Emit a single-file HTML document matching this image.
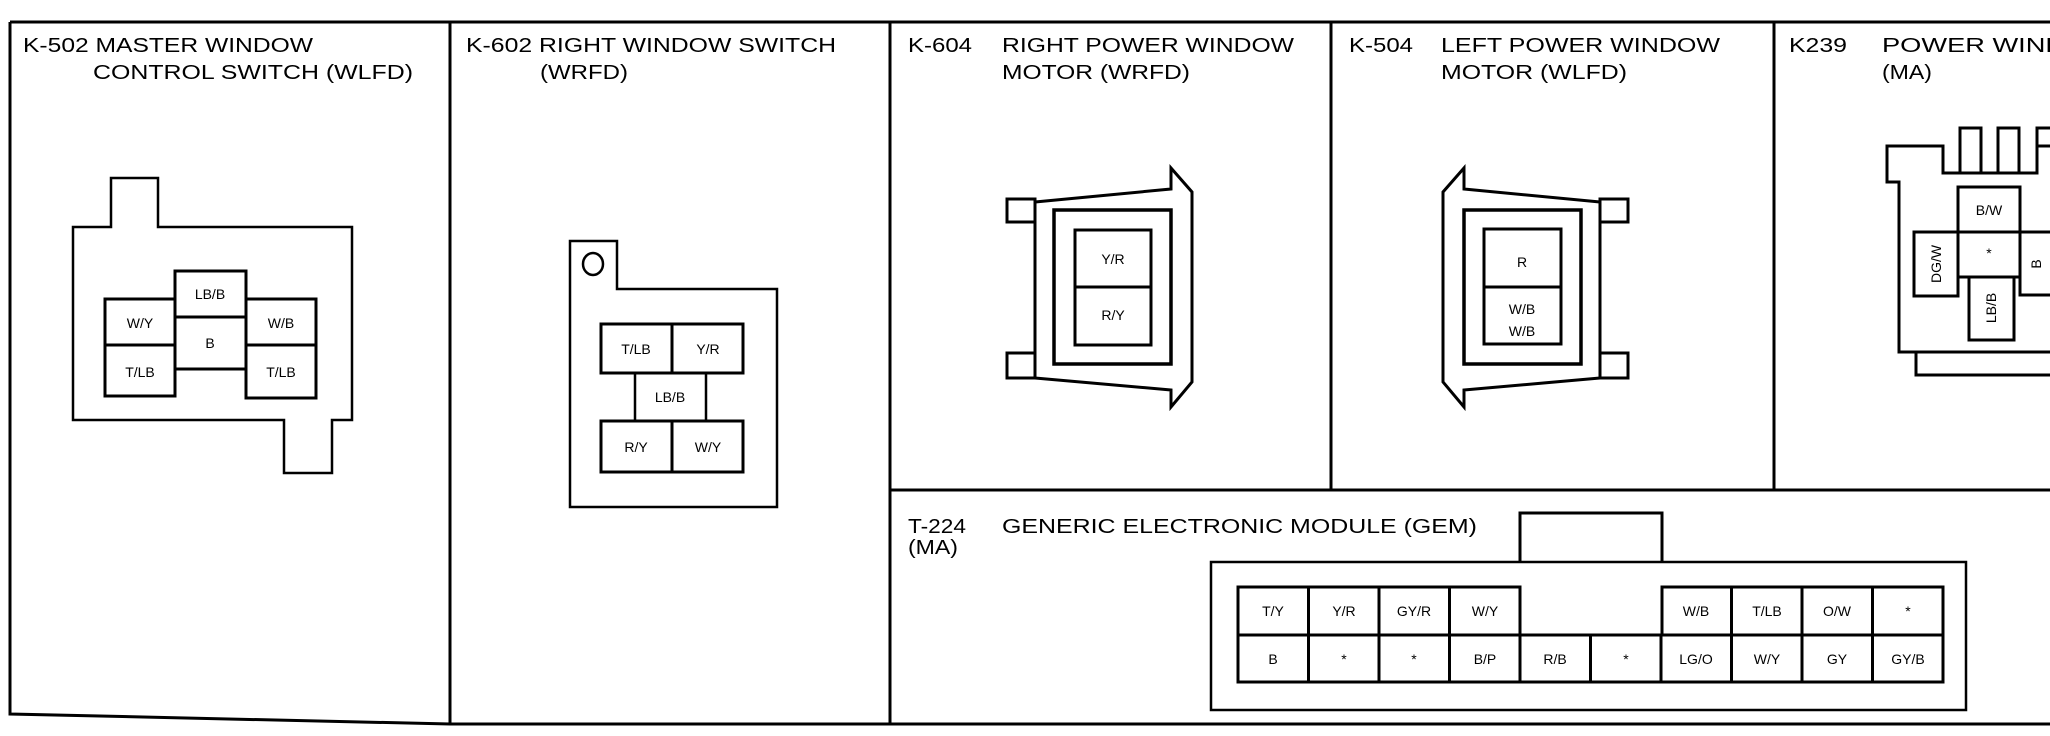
<!DOCTYPE html>
<html><head><meta charset="utf-8"><style>
html,body{margin:0;padding:0;background:#fff;}
svg{display:block;}
text{font-family:"Liberation Sans",Arial,sans-serif;fill:#000;}
.h{font-size:20px;}
.p{font-size:14px;text-anchor:middle;}
</style></head><body>
<svg width="2050" height="736" viewBox="0 0 2050 736" xmlns="http://www.w3.org/2000/svg">
<g fill="none" stroke="#000" stroke-width="3">
<!-- frame -->
<path d="M10 22 H2050"/>
<path d="M10 22 V714 L450 724 H2050"/>
<path d="M450 22 V724 M890 22 V724 M1331 22 V490 M1774 22 V490 M890 490 H2050"/>
</g>
<!-- headings -->
<text class="h" x="23" y="52" textLength="290" lengthAdjust="spacingAndGlyphs">K-502 MASTER WINDOW</text>
<text class="h" x="93" y="79" textLength="320" lengthAdjust="spacingAndGlyphs">CONTROL SWITCH (WLFD)</text>
<text class="h" x="466" y="52" textLength="370" lengthAdjust="spacingAndGlyphs">K-602 RIGHT WINDOW SWITCH</text>
<text class="h" x="540" y="79" textLength="88" lengthAdjust="spacingAndGlyphs">(WRFD)</text>
<text class="h" x="908" y="52" textLength="64" lengthAdjust="spacingAndGlyphs">K-604</text>
<text class="h" x="1002" y="52" textLength="292" lengthAdjust="spacingAndGlyphs">RIGHT POWER WINDOW</text>
<text class="h" x="1002" y="79" textLength="188" lengthAdjust="spacingAndGlyphs">MOTOR (WRFD)</text>
<text class="h" x="1349" y="52" textLength="64" lengthAdjust="spacingAndGlyphs">K-504</text>
<text class="h" x="1441" y="52" textLength="279" lengthAdjust="spacingAndGlyphs">LEFT POWER WINDOW</text>
<text class="h" x="1441" y="79" textLength="186" lengthAdjust="spacingAndGlyphs">MOTOR (WLFD)</text>
<text class="h" x="1789" y="52" textLength="58" lengthAdjust="spacingAndGlyphs">K239</text>
<text class="h" x="1882" y="52" textLength="230" lengthAdjust="spacingAndGlyphs">POWER WINDOW</text>
<text class="h" x="1882" y="79" textLength="50" lengthAdjust="spacingAndGlyphs">(MA)</text>
<text class="h" x="908" y="533" textLength="58" lengthAdjust="spacingAndGlyphs">T-224</text>
<text class="h" x="1002" y="533" textLength="475" lengthAdjust="spacingAndGlyphs">GENERIC ELECTRONIC MODULE (GEM)</text>
<text class="h" x="908" y="554" textLength="50" lengthAdjust="spacingAndGlyphs">(MA)</text>

<g fill="none" stroke="#000" stroke-width="3">
<!-- K-502 -->
<path d="M73 227 H111 V178 H158 V227 H352 V420 H332 V473 H284 V420 H73 Z" stroke-width="2.5"/>
<rect x="105" y="299" width="70" height="97"/>
<path d="M105 345 H175"/>
<rect x="175" y="271" width="71" height="98"/>
<path d="M175 317 H246"/>
<rect x="246" y="299" width="70" height="99"/>
<path d="M246 345 H316"/>
<!-- K-602 -->
<path d="M570 241 H617 V289 H777 V507 H570 Z" stroke-width="2.5"/>
<ellipse cx="593" cy="264" rx="10" ry="11" stroke-width="2.5"/>
<rect x="601" y="324" width="142" height="49"/>
<path d="M672 324 V373"/>
<rect x="635" y="373" width="71" height="48" stroke-width="2.5"/>
<rect x="601" y="421" width="142" height="51"/>
<path d="M672 421 V472"/>
<!-- K-604 -->
<path d="M1035 202 L1171 189 L1171 168 L1192 192 L1192 382 L1171 407 L1171 390 L1035 378 Z"/>
<rect x="1007" y="199" width="28" height="23"/>
<rect x="1007" y="353" width="28" height="25"/>
<rect x="1054" y="210" width="117" height="154" stroke-width="3.5"/>
<rect x="1075" y="230" width="76" height="115"/>
<path d="M1075 287 H1151"/>
<!-- K-504 -->
<path d="M1600 202 L1464 189 L1464 168 L1443 192 L1443 382 L1464 407 L1464 390 L1600 378 Z"/>
<rect x="1600" y="199" width="28" height="23"/>
<rect x="1600" y="353" width="28" height="25"/>
<rect x="1464" y="210" width="117" height="154" stroke-width="3.5"/>
<rect x="1484" y="229" width="77" height="115"/>
<path d="M1484 287 H1561"/>
<!-- K239 -->
<path d="M2052 146 H2037 V173 H1943 V146 H1887 V182 H1899 V352 H2052"/>
<path d="M1960 173 V128 H1981 V173 M1998 173 V128 H2019 V173 M2037 146 V128 H2052"/>
<path d="M1916 352 V375 H2052"/>
<rect x="1958" y="187" width="62" height="45"/>
<rect x="1958" y="232" width="62" height="45"/>
<rect x="1914" y="232" width="44" height="64"/>
<rect x="1969" y="277" width="45" height="63"/>
<path d="M2052 232 H2020 V295 H2052"/>
<!-- GEM -->
<path d="M1520 561 V513 H1662 V561" />
<rect x="1211" y="562" width="755" height="148" stroke-width="2.5"/>
<path d="M1238 635 V587 H1520 V635 M1662 635 V587 H1943 V635"/>
<rect x="1238" y="635" width="705" height="47"/>
<path d="M1308.5 587 V682 M1379 587 V682 M1449.5 587 V682 M1520 635 V682 M1590.5 635 V682 M1661 635 V682 M1731.5 587 V682 M1802 587 V682 M1872.5 587 V682"/>
</g>
<!-- pin labels -->
<g class="p">
<text class="p" x="140" y="328">W/Y</text>
<text class="p" x="140" y="377">T/LB</text>
<text class="p" x="210" y="299">LB/B</text>
<text class="p" x="210" y="348">B</text>
<text class="p" x="281" y="328">W/B</text>
<text class="p" x="281" y="377">T/LB</text>
<text class="p" x="636" y="354">T/LB</text>
<text class="p" x="708" y="354">Y/R</text>
<text class="p" x="670" y="402">LB/B</text>
<text class="p" x="636" y="452">R/Y</text>
<text class="p" x="708" y="452">W/Y</text>
<text class="p" x="1113" y="264">Y/R</text>
<text class="p" x="1113" y="320">R/Y</text>
<text class="p" x="1522" y="267">R</text>
<text class="p" x="1522" y="314">W/B</text>
<text class="p" x="1522" y="336">W/B</text>
<text class="p" x="1989" y="215">B/W</text>
<text class="p" x="1989" y="258">*</text>
<text class="p" transform="translate(1941 264) rotate(-90)">DG/W</text>
<text class="p" transform="translate(1996 308) rotate(-90)">LB/B</text>
<text class="p" transform="translate(2041 264) rotate(-90)">B</text>
<text class="p" x="1273" y="616">T/Y</text>
<text class="p" x="1344" y="616">Y/R</text>
<text class="p" x="1414" y="616">GY/R</text>
<text class="p" x="1485" y="616">W/Y</text>
<text class="p" x="1696" y="616">W/B</text>
<text class="p" x="1767" y="616">T/LB</text>
<text class="p" x="1837" y="616">O/W</text>
<text class="p" x="1908" y="616">*</text>
<text class="p" x="1273" y="664">B</text>
<text class="p" x="1344" y="664">*</text>
<text class="p" x="1414" y="664">*</text>
<text class="p" x="1485" y="664">B/P</text>
<text class="p" x="1555" y="664">R/B</text>
<text class="p" x="1626" y="664">*</text>
<text class="p" x="1696" y="664">LG/O</text>
<text class="p" x="1767" y="664">W/Y</text>
<text class="p" x="1837" y="664">GY</text>
<text class="p" x="1908" y="664">GY/B</text>
</g>
</svg>
</body></html>
